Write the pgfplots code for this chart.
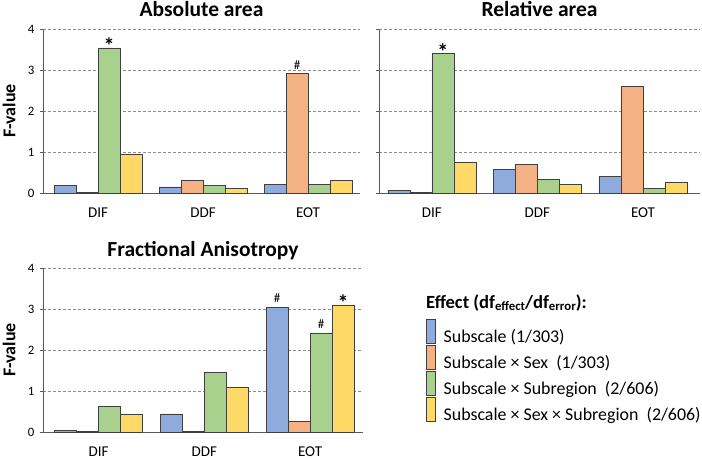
\documentclass[border=0pt]{standalone}
\usepackage{fontspec}
\setmainfont{Carlito}
\usepackage{pgfplots}
\pgfplotsset{compat=1.18}
\definecolor{cBlue}{HTML}{8FAADC}
\definecolor{cOrange}{HTML}{F4B183}
\definecolor{cGreen}{HTML}{A9D18E}
\definecolor{cYellow}{HTML}{FFD966}
\definecolor{cEdge}{HTML}{404040}
\definecolor{cAxis}{HTML}{595959}
\definecolor{cGrid}{HTML}{8C8C8C}
\protected\def\sig{\raisebox{-6bp}{\fontsize{22bp}{22bp}\selectfont\bfseries *}}
\protected\def\hsh{\raisebox{4.5bp}{\fontsize{13bp}{13bp}\selectfont\#}}
\pgfplotsset{
  myaxis/.style={
    scale only axis, height=164bp, ymin=0, ymax=4, ytick={0,1,2,3,4},
    enlarge x limits=false,
    ybar=0pt, bar width=22bp,
    axis x line=bottom, axis y line=left,
    axis line style={-, cAxis, line width=0.8bp},
    xtick={0,1,2}, xticklabels={DIF,DDF,EOT},
    x tick style={draw=none},
    y tick style={cAxis, line width=0.8bp},
    tick align=outside, major tick length=3bp,
    ymajorgrids, grid style={cGrid, line width=0.8bp, dash pattern=on 3bp off 2bp},
    y tick label style={font=\fontsize{12.8bp}{14bp}\selectfont, xshift=-2bp},
    x tick label style={font=\fontsize{15bp}{16bp}\selectfont, yshift=-8.5bp},
    /pgf/number format/assume math mode=true,
    title style={at={(0.5,1)}, anchor=south, inner sep=0pt, text depth=0pt,
      font=\fontsize{21.5bp}{23bp}\selectfont\bfseries},
    ylabel style={anchor=center, font=\fontsize{18bp}{19bp}\selectfont\bfseries},
    every axis plot/.append style={draw=cEdge, line width=0.6bp},
    clip=false,
  },
  ann/.style={nodes near coords, point meta=explicit symbolic,
    nodes near coords style={anchor=base, inner sep=0pt, text=black}},
  mylegend/.style={legend image code/.code={\draw[##1] (0bp,-6.5bp) rectangle (9bp,17.5bp);}},
}
\begin{document}
\begin{tikzpicture}
\useasboundingbox (0,0) rectangle (702bp,459bp);
% Absolute area
\begin{axis}[myaxis, width=317bp, xmin=-0.524, xmax=2.495,
  at={(43bp,266bp)}, anchor=south west,
  title={Absolute area}, title style={yshift=6bp}, ylabel={F-value},
  ylabel style={at={(axis description cs:-0.107,0.5)}}]
\addplot[fill=cBlue] coordinates {(0,0.19) (1,0.15) (2,0.21)};
\addplot[fill=cOrange, ann] coordinates {(0,0.02) [] (1,0.30) [] (2,2.91) [\hsh]};
\addplot[fill=cGreen, ann] coordinates {(0,3.54) [\sig] (1,0.18) [] (2,0.21) []};
\addplot[fill=cYellow] coordinates {(0,0.94) (1,0.11) (2,0.30)};
\end{axis}
% Relative area
\begin{axis}[myaxis, width=321bp, xmin=-0.50, xmax=2.54,
  at={(379bp,266bp)}, anchor=south west,
  title={Relative area}, title style={yshift=6bp}, yticklabels={}]
\addplot[fill=cBlue] coordinates {(0,0.06) (1,0.57) (2,0.40)};
\addplot[fill=cOrange] coordinates {(0,0.01) (1,0.70) (2,2.60)};
\addplot[fill=cGreen, ann] coordinates {(0,3.40) [\sig] (1,0.33) [] (2,0.12) []};
\addplot[fill=cYellow] coordinates {(0,0.76) (1,0.21) (2,0.27)};
\end{axis}
% Fractional Anisotropy
\begin{axis}[myaxis, width=320bp, xmin=-0.525, xmax=2.50,
  at={(43bp,27bp)}, anchor=south west,
  title={Fractional Anisotropy}, title style={yshift=5bp}, ylabel={F-value},
  ylabel style={at={(axis description cs:-0.106,0.5)}},
  legend style={at={(1.197,0.689)}, anchor=north west, draw=none, fill=none,
    inner sep=0pt, outer sep=0pt, row sep=-1bp,
    font=\fontsize{17.9bp}{19bp}\selectfont,
    nodes={inner sep=2bp},
    /tikz/every odd column/.append style={column sep=6bp}},
  legend cell align=left]
\addplot[fill=cBlue, ann, mylegend] coordinates {(0,0.04) [] (1,0.44) [] (2,3.04) [\hsh]};
\addplot[fill=cOrange, mylegend] coordinates {(0,0.01) (1,0.01) (2,0.25)};
\addplot[fill=cGreen, ann, mylegend] coordinates {(0,0.63) [] (1,1.46) [] (2,2.41) [\hsh]};
\addplot[fill=cYellow, ann, mylegend] coordinates {(0,0.44) [] (1,1.08) [] (2,3.10) [\sig]};
\legend{Subscale (1/303), Subscale × Sex\ \ (1/303), Subscale × Subregion\ \ (2/606), Subscale × Sex × Subregion\ \ (2/606)}
\end{axis}
\node[anchor=base west, inner sep=0pt, font=\fontsize{18.6bp}{19bp}\selectfont\bfseries] at (426bp,150bp)
  {Effect (df\raisebox{-1.5bp}{\fontsize{12.8bp}{13bp}\selectfont effect}/df\raisebox{-1.5bp}{\fontsize{12.8bp}{13bp}\selectfont error}):};
\end{tikzpicture}
\end{document}
